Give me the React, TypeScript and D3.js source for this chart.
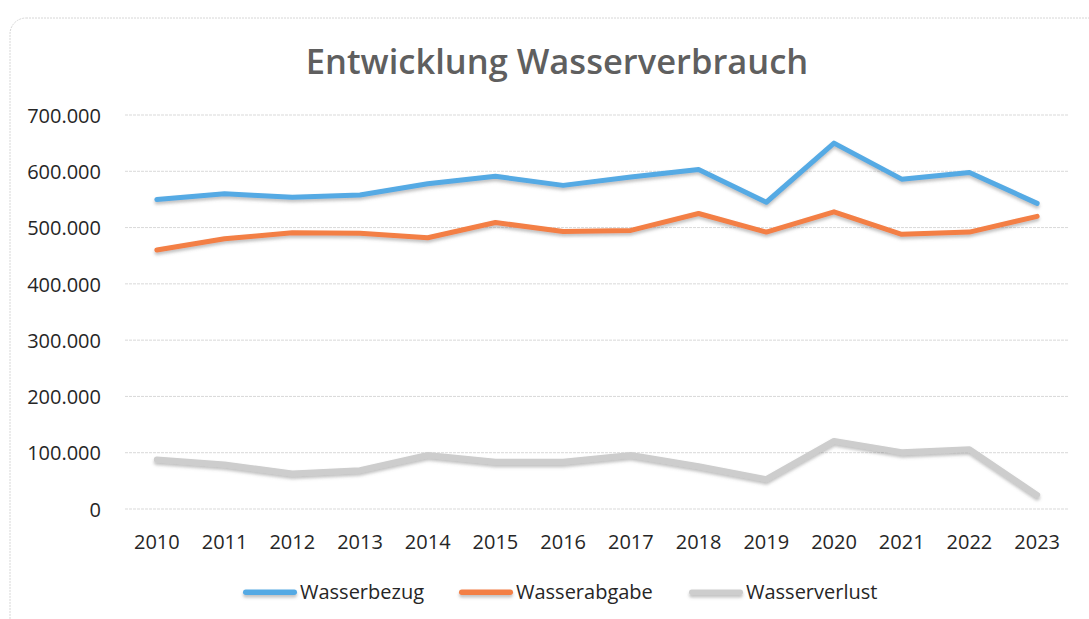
import React, { useRef, useEffect } from 'react';
import * as d3 from 'd3';

// Werte (m³)
const years = ['2010', '2011', '2012', '2013', '2014', '2015', '2016', '2017', '2018', '2019', '2020', '2021', '2022', '2023'];
const wasserbezug = [550000, 560000, 554000, 558000, 578000, 591000, 575000, 590000, 603000, 545000, 650000, 586000, 598000, 543000];
const wasserabgabe = [460000, 480000, 491000, 490000, 482000, 509000, 493000, 495000, 525000, 492000, 528000, 488000, 492000, 520000];
const wasserverlust = [88000, 79000, 63000, 69000, 96000, 84000, 84000, 96000, 76000, 53000, 121000, 101000, 106000, 25000];
const yTicks = [0, 100000, 200000, 300000, 400000, 500000, 600000, 700000];

const seriesNames = ['Wasserbezug', 'Wasserabgabe', 'Wasserverlust'];
const seriesColors = ['#55aae4', '#f37f45', '#cdcdcd'];

const W = 1089;
const H = 619;

const App: React.FC = () => {
    const ref = useRef<SVGSVGElement | null>(null);

    useEffect(() => {
        if (!ref.current) return;
        const svg = d3.select(ref.current);
        svg.selectAll('*').remove();

        const font = '"Open Sans", "Noto Sans", sans-serif';
        const de = d3.formatLocale({ decimal: ',', thousands: '.', grouping: [3], currency: ['', ' €'] });
        const fmt = de.format(',d');

        const defs = svg.append('defs');
        const f = defs.append('filter').attr('id', 'shadow')
            .attr('filterUnits', 'userSpaceOnUse')
            .attr('x', 0).attr('y', 0).attr('width', W).attr('height', H);
        f.append('feDropShadow')
            .attr('dx', 0).attr('dy', 2.5).attr('stdDeviation', 1.5)
            .attr('flood-color', '#777').attr('flood-opacity', 0.45);

        // Rahmen
        svg.append('rect')
            .attr('x', 10).attr('y', 18).attr('width', 1110).attr('height', 640).attr('rx', 16)
            .attr('fill', 'none').attr('stroke', '#d6d6d6').attr('stroke-width', 1)
            .attr('stroke-dasharray', '2 1');

        // Titel
        svg.append('text')
            .attr('x', 557).attr('y', 74)
            .attr('text-anchor', 'middle')
            .style('font-family', font).style('font-size', '34.5px').style('font-weight', 600)
            .attr('fill', '#5f5f5f')
            .text('Entwicklung Wasserverbrauch');

        const x = d3.scaleBand().domain(years).range([123, 1071]);
        const y = d3.scaleLinear().domain([0, 700000]).range([509, 115]);
        const cx = (d: string) => (x(d) as number) + x.bandwidth() / 2;

        // Gitternetz
        svg.append('g').selectAll('line').data(yTicks).enter().append('line')
            .attr('x1', 125).attr('x2', 1068)
            .attr('y1', d => y(d)).attr('y2', d => y(d))
            .attr('stroke', '#d9d9d9').attr('stroke-width', 1)
            .attr('stroke-dasharray', '3 1');

        // y-Achse
        const yAxis = svg.append('g')
            .attr('transform', 'translate(101,0)')
            .call(d3.axisLeft(y).tickValues(yTicks).tickFormat(d => fmt(d as number)).tickSize(0).tickPadding(0));
        yAxis.select('.domain').remove();
        yAxis.selectAll('text')
            .style('font-family', font).style('font-size', '20px')
            .attr('fill', '#262626').attr('dy', '0.36em');

        // x-Achse
        const xAxis = svg.append('g')
            .attr('transform', 'translate(0,531)')
            .call(d3.axisBottom(x).tickSize(0).tickPadding(0));
        xAxis.select('.domain').remove();
        xAxis.selectAll('text')
            .style('font-family', font).style('font-size', '20px')
            .attr('fill', '#262626').attr('dy', '0.9em');

        // Linien
        const data = [wasserbezug, wasserabgabe, wasserverlust];
        const line = d3.line<number>()
            .x((_, i) => cx(years[i]))
            .y(d => y(d));

        [2, 1, 0].forEach(k => {
            svg.append('path')
                .datum(data[k])
                .attr('d', line)
                .attr('fill', 'none')
                .attr('stroke', seriesColors[k])
                .attr('stroke-width', k === 2 ? 6 : 5)
                .attr('stroke-linejoin', 'round')
                .attr('stroke-linecap', 'round')
                .attr('filter', 'url(#shadow)');
        });

        // Legende
        const legendX = [243, 459, 689];
        const legend = svg.append('g');
        seriesNames.forEach((name, k) => {
            legend.append('rect')
                .attr('x', legendX[k]).attr('y', 589.5)
                .attr('width', 54).attr('height', 5.5).attr('rx', 2.75)
                .attr('fill', seriesColors[k])
                .attr('filter', 'url(#shadow)');
            legend.append('text')
                .attr('x', legendX[k] + 57).attr('y', 592)
                .attr('dy', '0.36em')
                .style('font-family', font).style('font-size', '20px')
                .attr('fill', '#262626')
                .text(name);
        });
    }, []);

    return (
        <div style={{ position: 'absolute', left: 0, top: 0, width: W, height: H, background: '#fff' }}>
            <svg ref={ref} width={W} height={H}></svg>
        </div>
    );
};

export default App;
